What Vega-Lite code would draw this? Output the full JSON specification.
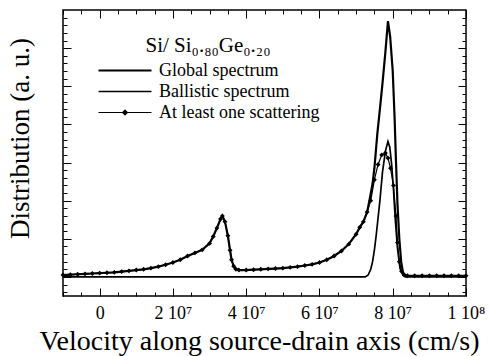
{
  "$schema": "https://vega.github.io/schema/vega-lite/v6.json",
  "autosize": {"type": "none"},
  "width": 403,
  "height": 286,
  "padding": {"left": 63, "top": 10, "right": 24, "bottom": 60},
  "background": "white",
  "config": {
    "view": {"stroke": "black", "strokeWidth": 1.5},
    "font": "Liberation Serif, DejaVu Serif, serif",
    "axis": {"domain": false, "grid": false, "tickColor": "black", "labelColor": "black", "titleColor": "black", "labelFont": "Liberation Serif, DejaVu Serif, serif", "titleFont": "Liberation Serif, DejaVu Serif, serif", "titleFontWeight": "normal", "tickWidth": 1}
  },
  "datasets": {
    "curves": [
      {"s": "At least one scattering", "v": -1.0e7, "d": 0.05},
      {"s": "At least one scattering", "v": -0.8e7, "d": 0.06},
      {"s": "At least one scattering", "v": -0.6e7, "d": 0.07},
      {"s": "At least one scattering", "v": -0.4e7, "d": 0.08},
      {"s": "At least one scattering", "v": -0.2e7, "d": 0.09},
      {"s": "At least one scattering", "v": 0, "d": 0.10},
      {"s": "At least one scattering", "v": 0.2e7, "d": 0.11},
      {"s": "At least one scattering", "v": 0.4e7, "d": 0.12},
      {"s": "At least one scattering", "v": 0.6e7, "d": 0.14},
      {"s": "At least one scattering", "v": 0.8e7, "d": 0.16},
      {"s": "At least one scattering", "v": 1.0e7, "d": 0.18},
      {"s": "At least one scattering", "v": 1.2e7, "d": 0.20},
      {"s": "At least one scattering", "v": 1.4e7, "d": 0.23},
      {"s": "At least one scattering", "v": 1.6e7, "d": 0.27},
      {"s": "At least one scattering", "v": 1.8e7, "d": 0.32},
      {"s": "At least one scattering", "v": 2.0e7, "d": 0.38},
      {"s": "At least one scattering", "v": 2.2e7, "d": 0.45},
      {"s": "At least one scattering", "v": 2.4e7, "d": 0.55},
      {"s": "At least one scattering", "v": 2.6e7, "d": 0.63},
      {"s": "At least one scattering", "v": 2.8e7, "d": 0.71},
      {"s": "At least one scattering", "v": 3.0e7, "d": 0.88},
      {"s": "At least one scattering", "v": 3.1e7, "d": 1.06},
      {"s": "At least one scattering", "v": 3.2e7, "d": 1.28},
      {"s": "At least one scattering", "v": 3.3e7, "d": 1.52},
      {"s": "At least one scattering", "v": 3.35e7, "d": 1.6},
      {"s": "At least one scattering", "v": 3.42e7, "d": 1.45},
      {"s": "At least one scattering", "v": 3.5e7, "d": 1.08},
      {"s": "At least one scattering", "v": 3.56e7, "d": 0.7},
      {"s": "At least one scattering", "v": 3.6e7, "d": 0.45},
      {"s": "At least one scattering", "v": 3.66e7, "d": 0.28},
      {"s": "At least one scattering", "v": 3.72e7, "d": 0.2},
      {"s": "At least one scattering", "v": 3.8e7, "d": 0.18},
      {"s": "At least one scattering", "v": 4.0e7, "d": 0.18},
      {"s": "At least one scattering", "v": 4.2e7, "d": 0.19},
      {"s": "At least one scattering", "v": 4.4e7, "d": 0.2},
      {"s": "At least one scattering", "v": 4.6e7, "d": 0.21},
      {"s": "At least one scattering", "v": 4.8e7, "d": 0.22},
      {"s": "At least one scattering", "v": 5.0e7, "d": 0.23},
      {"s": "At least one scattering", "v": 5.2e7, "d": 0.25},
      {"s": "At least one scattering", "v": 5.4e7, "d": 0.27},
      {"s": "At least one scattering", "v": 5.6e7, "d": 0.3},
      {"s": "At least one scattering", "v": 5.8e7, "d": 0.33},
      {"s": "At least one scattering", "v": 6.0e7, "d": 0.38},
      {"s": "At least one scattering", "v": 6.2e7, "d": 0.45},
      {"s": "At least one scattering", "v": 6.4e7, "d": 0.55},
      {"s": "At least one scattering", "v": 6.6e7, "d": 0.68},
      {"s": "At least one scattering", "v": 6.8e7, "d": 0.86},
      {"s": "At least one scattering", "v": 7.0e7, "d": 1.12},
      {"s": "At least one scattering", "v": 7.1e7, "d": 1.3},
      {"s": "At least one scattering", "v": 7.2e7, "d": 1.45},
      {"s": "At least one scattering", "v": 7.3e7, "d": 1.7},
      {"s": "At least one scattering", "v": 7.4e7, "d": 2.0},
      {"s": "At least one scattering", "v": 7.5e7, "d": 2.55},
      {"s": "At least one scattering", "v": 7.6e7, "d": 2.95},
      {"s": "At least one scattering", "v": 7.7e7, "d": 3.2},
      {"s": "At least one scattering", "v": 7.8e7, "d": 3.25},
      {"s": "At least one scattering", "v": 7.87e7, "d": 3.12},
      {"s": "At least one scattering", "v": 7.94e7, "d": 2.85},
      {"s": "At least one scattering", "v": 8.02e7, "d": 2.4},
      {"s": "At least one scattering", "v": 8.09e7, "d": 1.6},
      {"s": "At least one scattering", "v": 8.13e7, "d": 0.9},
      {"s": "At least one scattering", "v": 8.18e7, "d": 0.4},
      {"s": "At least one scattering", "v": 8.24e7, "d": 0.15},
      {"s": "At least one scattering", "v": 8.32e7, "d": 0.05},
      {"s": "At least one scattering", "v": 8.4e7, "d": 0.03},
      {"s": "At least one scattering", "v": 8.6e7, "d": 0.03},
      {"s": "At least one scattering", "v": 8.8e7, "d": 0.03},
      {"s": "At least one scattering", "v": 9.0e7, "d": 0.03},
      {"s": "At least one scattering", "v": 9.2e7, "d": 0.03},
      {"s": "At least one scattering", "v": 9.4e7, "d": 0.03},
      {"s": "At least one scattering", "v": 9.6e7, "d": 0.03},
      {"s": "At least one scattering", "v": 9.8e7, "d": 0.03},
      {"s": "At least one scattering", "v": 10.0e7, "d": 0.03},

      {"s": "Global spectrum", "v": -1.0e7, "d": 0.05},
      {"s": "Global spectrum", "v": -0.8e7, "d": 0.06},
      {"s": "Global spectrum", "v": -0.6e7, "d": 0.07},
      {"s": "Global spectrum", "v": -0.4e7, "d": 0.08},
      {"s": "Global spectrum", "v": -0.2e7, "d": 0.09},
      {"s": "Global spectrum", "v": 0, "d": 0.10},
      {"s": "Global spectrum", "v": 0.2e7, "d": 0.11},
      {"s": "Global spectrum", "v": 0.4e7, "d": 0.12},
      {"s": "Global spectrum", "v": 0.6e7, "d": 0.14},
      {"s": "Global spectrum", "v": 0.8e7, "d": 0.16},
      {"s": "Global spectrum", "v": 1.0e7, "d": 0.18},
      {"s": "Global spectrum", "v": 1.2e7, "d": 0.20},
      {"s": "Global spectrum", "v": 1.4e7, "d": 0.23},
      {"s": "Global spectrum", "v": 1.6e7, "d": 0.27},
      {"s": "Global spectrum", "v": 1.8e7, "d": 0.32},
      {"s": "Global spectrum", "v": 2.0e7, "d": 0.38},
      {"s": "Global spectrum", "v": 2.2e7, "d": 0.45},
      {"s": "Global spectrum", "v": 2.4e7, "d": 0.55},
      {"s": "Global spectrum", "v": 2.6e7, "d": 0.63},
      {"s": "Global spectrum", "v": 2.8e7, "d": 0.71},
      {"s": "Global spectrum", "v": 3.0e7, "d": 0.88},
      {"s": "Global spectrum", "v": 3.1e7, "d": 1.06},
      {"s": "Global spectrum", "v": 3.2e7, "d": 1.28},
      {"s": "Global spectrum", "v": 3.3e7, "d": 1.52},
      {"s": "Global spectrum", "v": 3.35e7, "d": 1.6},
      {"s": "Global spectrum", "v": 3.42e7, "d": 1.45},
      {"s": "Global spectrum", "v": 3.5e7, "d": 1.08},
      {"s": "Global spectrum", "v": 3.56e7, "d": 0.7},
      {"s": "Global spectrum", "v": 3.6e7, "d": 0.45},
      {"s": "Global spectrum", "v": 3.66e7, "d": 0.28},
      {"s": "Global spectrum", "v": 3.72e7, "d": 0.2},
      {"s": "Global spectrum", "v": 3.8e7, "d": 0.18},
      {"s": "Global spectrum", "v": 4.0e7, "d": 0.18},
      {"s": "Global spectrum", "v": 4.2e7, "d": 0.19},
      {"s": "Global spectrum", "v": 4.4e7, "d": 0.2},
      {"s": "Global spectrum", "v": 4.6e7, "d": 0.21},
      {"s": "Global spectrum", "v": 4.8e7, "d": 0.22},
      {"s": "Global spectrum", "v": 5.0e7, "d": 0.23},
      {"s": "Global spectrum", "v": 5.2e7, "d": 0.25},
      {"s": "Global spectrum", "v": 5.4e7, "d": 0.27},
      {"s": "Global spectrum", "v": 5.6e7, "d": 0.3},
      {"s": "Global spectrum", "v": 5.8e7, "d": 0.33},
      {"s": "Global spectrum", "v": 6.0e7, "d": 0.38},
      {"s": "Global spectrum", "v": 6.2e7, "d": 0.45},
      {"s": "Global spectrum", "v": 6.4e7, "d": 0.55},
      {"s": "Global spectrum", "v": 6.6e7, "d": 0.68},
      {"s": "Global spectrum", "v": 6.8e7, "d": 0.86},
      {"s": "Global spectrum", "v": 7.0e7, "d": 1.12},
      {"s": "Global spectrum", "v": 7.1e7, "d": 1.3},
      {"s": "Global spectrum", "v": 7.2e7, "d": 1.45},
      {"s": "Global spectrum", "v": 7.3e7, "d": 1.7},
      {"s": "Global spectrum", "v": 7.37e7, "d": 2.03},
      {"s": "Global spectrum", "v": 7.45e7, "d": 2.45},
      {"s": "Global spectrum", "v": 7.5e7, "d": 2.85},
      {"s": "Global spectrum", "v": 7.58e7, "d": 3.76},
      {"s": "Global spectrum", "v": 7.65e7, "d": 4.4},
      {"s": "Global spectrum", "v": 7.72e7, "d": 5.07},
      {"s": "Global spectrum", "v": 7.8e7, "d": 5.9},
      {"s": "Global spectrum", "v": 7.87e7, "d": 6.71},
      {"s": "Global spectrum", "v": 7.93e7, "d": 6.3},
      {"s": "Global spectrum", "v": 8.0e7, "d": 5.4},
      {"s": "Global spectrum", "v": 8.05e7, "d": 4.2},
      {"s": "Global spectrum", "v": 8.09e7, "d": 3.0},
      {"s": "Global spectrum", "v": 8.13e7, "d": 1.9},
      {"s": "Global spectrum", "v": 8.18e7, "d": 1.0},
      {"s": "Global spectrum", "v": 8.23e7, "d": 0.4},
      {"s": "Global spectrum", "v": 8.28e7, "d": 0.12},
      {"s": "Global spectrum", "v": 8.33e7, "d": 0.03},
      {"s": "Global spectrum", "v": 8.4e7, "d": 0.03},
      {"s": "Global spectrum", "v": 10.0e7, "d": 0.03},

      {"s": "Ballistic spectrum", "v": -1.0e7, "d": 0},
      {"s": "Ballistic spectrum", "v": 7.25e7, "d": 0},
      {"s": "Ballistic spectrum", "v": 7.33e7, "d": 0.05},
      {"s": "Ballistic spectrum", "v": 7.4e7, "d": 0.2},
      {"s": "Ballistic spectrum", "v": 7.45e7, "d": 0.4},
      {"s": "Ballistic spectrum", "v": 7.5e7, "d": 0.71},
      {"s": "Ballistic spectrum", "v": 7.55e7, "d": 1.1},
      {"s": "Ballistic spectrum", "v": 7.6e7, "d": 1.55},
      {"s": "Ballistic spectrum", "v": 7.65e7, "d": 2.0},
      {"s": "Ballistic spectrum", "v": 7.72e7, "d": 2.74},
      {"s": "Ballistic spectrum", "v": 7.8e7, "d": 3.3},
      {"s": "Ballistic spectrum", "v": 7.87e7, "d": 3.55},
      {"s": "Ballistic spectrum", "v": 7.92e7, "d": 3.4},
      {"s": "Ballistic spectrum", "v": 7.97e7, "d": 2.95},
      {"s": "Ballistic spectrum", "v": 8.02e7, "d": 2.3},
      {"s": "Ballistic spectrum", "v": 8.07e7, "d": 1.5},
      {"s": "Ballistic spectrum", "v": 8.13e7, "d": 0.75},
      {"s": "Ballistic spectrum", "v": 8.2e7, "d": 0.22},
      {"s": "Ballistic spectrum", "v": 8.28e7, "d": 0.04},
      {"s": "Ballistic spectrum", "v": 8.35e7, "d": 0},
      {"s": "Ballistic spectrum", "v": 10.0e7, "d": 0}
    ]
  },
  "data": {"name": "curves"},
  "layer": [
    {
      "mark": {"type": "line", "color": "black"},
      "encoding": {
        "x": {
          "field": "v", "type": "quantitative",
          "scale": {"domain": [-1e7, 1e8], "nice": false, "zero": false},
          "axis": {
            "orient": "bottom",
            "values": [-1e7, -5e6, 0, 5e6, 1e7, 1.5e7, 2e7, 2.5e7, 3e7, 3.5e7, 4e7, 4.5e7, 5e7, 5.5e7, 6e7, 6.5e7, 7e7, 7.5e7, 8e7, 8.5e7, 9e7, 9.5e7, 1e8],
            "labelExpr": "datum.value == 0 ? '0' : (datum.value < 0 || abs(datum.value % 2e7) > 1) ? '' : datum.value >= 1e8 ? '1 10⁸' : format(datum.value / 1e7, 'd') + ' 10⁷'",
            "tickSize": {"condition": {"test": "abs(datum.value % 2e7) < 1", "value": -8}, "value": -4},
            "labelFontSize": 18,
            "labelPadding": 16,
            "labelFlush": false,
            "labelOverlap": false,
            "labelBound": false,
            "title": "Velocity along source-drain axis (cm/s)",
            "titleFontSize": 28,
            "titleX": 196,
            "titleY": 53,
            "titleBaseline": "alphabetic"
          }
        },
        "y": {
          "field": "d", "type": "quantitative",
          "scale": {"domain": [-0.5, 7.0], "nice": false, "zero": false},
          "axis": {
            "orient": "left",
            "values": [-0.4, -0.2, 0, 0.2, 0.4, 0.6, 0.8, 1, 1.2, 1.4, 1.6, 1.8, 2, 2.2, 2.4, 2.6, 2.8, 3, 3.2, 3.4, 3.6, 3.8, 4, 4.2, 4.4, 4.6, 4.8, 5, 5.2, 5.4, 5.6, 5.8, 6, 6.2, 6.4, 6.6, 6.8],
            "labels": false,
            "tickSize": {"condition": {"test": "abs(datum.value - round(datum.value)) < 0.01", "value": -8}, "value": -4},
            "title": "Distribution (a. u.)",
            "titleFontSize": 27,
            "titleX": -35,
            "titleY": 128,
            "titleBaseline": "alphabetic"
          }
        },
        "strokeWidth": {
          "field": "s", "type": "ordinal",
          "scale": {"domain": ["Global spectrum", "Ballistic spectrum", "At least one scattering"], "range": [2.2, 1.2, 1.4]},
          "legend": {
            "orient": "none",
            "legendX": 34,
            "legendY": 25,
            "title": "Si/ Si₀.₈₀Ge₀.₂₀",
            "titleFont": "Liberation Serif, DejaVu Serif, serif",
            "titleFontSize": 21,
            "titleFontWeight": "normal",
            "titleColor": "black",
            "titleAnchor": "middle",
            "titlePadding": 4,
            "labelFont": "Liberation Serif, DejaVu Serif, serif",
            "labelFontSize": 18,
            "labelColor": "black",
            "labelLimit": 0,
            "labelOffset": 6,
            "symbolType": "M-1,0H1",
            "symbolSize": 2809,
            "symbolStrokeColor": "black",
            "symbolFillColor": "black",
            "clipHeight": 21,
            "rowPadding": 0,
            "padding": 0,
            "encode": {
              "symbols": {
                "update": {
                  "shape": {"signal": "datum.value == 'At least one scattering' ? 'M-1,0H1M0,-0.09L0.09,0L0,0.09L-0.09,0Z' : 'M-1,0H1'"},
                  "fill": {"value": "black"},
                  "stroke": {"value": "black"}
                }
              }
            }
          }
        }
      }
    },
    {
      "transform": [{"filter": "datum.s == 'At least one scattering'"}],
      "mark": {"type": "point", "shape": "diamond", "filled": true, "color": "black", "size": 24, "opacity": 1},
      "encoding": {
        "x": {
          "field": "v", "type": "quantitative",
          "axis": {
            "orient": "top",
            "values": [-1e7, -5e6, 0, 5e6, 1e7, 1.5e7, 2e7, 2.5e7, 3e7, 3.5e7, 4e7, 4.5e7, 5e7, 5.5e7, 6e7, 6.5e7, 7e7, 7.5e7, 8e7, 8.5e7, 9e7, 9.5e7, 1e8],
            "labels": false,
            "title": null,
            "tickSize": {"condition": {"test": "abs(datum.value % 2e7) < 1", "value": -8}, "value": -4}
          }
        },
        "y": {
          "field": "d", "type": "quantitative",
          "axis": {
            "orient": "right",
            "values": [-0.4, -0.2, 0, 0.2, 0.4, 0.6, 0.8, 1, 1.2, 1.4, 1.6, 1.8, 2, 2.2, 2.4, 2.6, 2.8, 3, 3.2, 3.4, 3.6, 3.8, 4, 4.2, 4.4, 4.6, 4.8, 5, 5.2, 5.4, 5.6, 5.8, 6, 6.2, 6.4, 6.6, 6.8],
            "labels": false,
            "title": null,
            "tickSize": {"condition": {"test": "abs(datum.value - round(datum.value)) < 0.01", "value": -8}, "value": -4}
          }
        }
      }
    }
  ],
  "resolve": {"axis": {"x": "independent", "y": "independent"}}
}
